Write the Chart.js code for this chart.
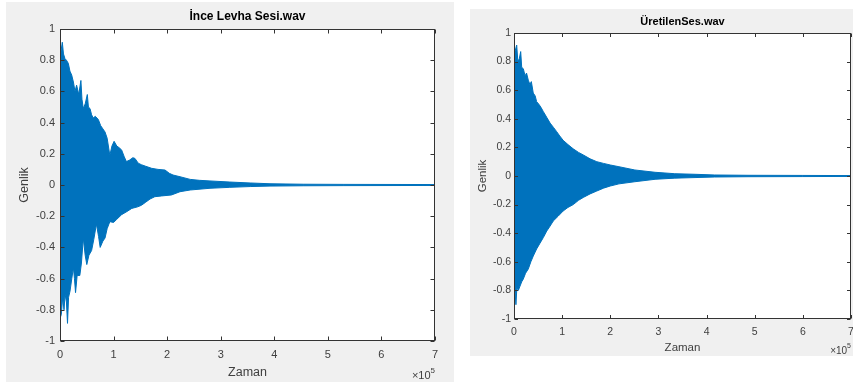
<!DOCTYPE html>
<html>
<head>
<meta charset="utf-8">
<script src="https://cdn.jsdelivr.net/npm/chart.js@4.4.1/dist/chart.umd.min.js"></script>
<style>
  html, body { margin: 0; padding: 0; background: #fff; }
  body { width: 853px; height: 385px; position: relative; overflow: hidden; }
  canvas { position: absolute; }
  #left { left: 6px; top: 2px; }
  #right { left: 470px; top: 9px; }
</style>
</head>
<body>
<canvas id="left" width="448" height="380"></canvas>
<canvas id="right" width="383" height="347"></canvas>
<script>
"use strict";

// x axis ticks (sample index) and y axis ticks (amplitude)
var xTicks = [0, 100000, 200000, 300000, 400000, 500000, 600000, 700000];
var yTicks = [-1, -0.8, -0.6, -0.4, -0.2, 0, 0.2, 0.4, 0.6, 0.8, 1];

// İnce Levha Sesi.wav - envelope
var leftUpperX = [0, 2000, 4300, 6500, 9300, 12000, 15500, 18500, 21800, 25000, 28000, 31000, 35000, 39000, 41000, 43500, 47000, 51000, 53000, 56000, 59000, 62000, 66000, 71500, 76000, 80000, 84000, 88000, 93000, 97000, 101000, 106000, 110000, 115000, 120000, 124000, 130000, 136000, 140000, 146000, 152000, 160000, 171000, 183000, 196000, 204000, 211000, 224000, 243000, 260000, 280000, 317000, 355000, 392000, 454000, 530000, 700000];
var leftUpperY = [0.87, 0.86, 0.915, 0.84, 0.81, 0.8, 0.78, 0.73, 0.705, 0.66, 0.6, 0.64, 0.58, 0.67, 0.55, 0.49, 0.52, 0.58, 0.5, 0.49, 0.45, 0.43, 0.44, 0.42, 0.38, 0.36, 0.34, 0.3, 0.19, 0.25, 0.28, 0.25, 0.24, 0.225, 0.18, 0.15, 0.16, 0.175, 0.17, 0.14, 0.13, 0.12, 0.107, 0.1, 0.096, 0.075, 0.064, 0.053, 0.036, 0.03, 0.026, 0.019, 0.013, 0.008, 0.005, 0.004, 0.003];
var leftLowerX = [0, 2500, 5000, 7500, 9500, 12000, 14000, 16000, 18700, 22000, 25000, 27000, 29000, 32000, 37000, 40000, 43500, 47000, 50000, 54000, 59000, 63000, 68000, 72000, 75000, 80000, 84000, 88000, 93000, 100000, 106000, 115000, 125000, 134000, 145000, 152000, 160000, 168000, 177000, 190000, 208000, 224000, 243000, 280000, 317000, 355000, 392000, 454000, 530000, 700000];
var leftLowerY = [-0.855, -0.83, -0.72, -0.8, -0.7, -0.75, -0.887, -0.72, -0.68, -0.6, -0.53, -0.6, -0.69, -0.58, -0.58, -0.5, -0.34, -0.45, -0.51, -0.45, -0.42, -0.35, -0.25, -0.33, -0.4, -0.36, -0.34, -0.28, -0.235, -0.24, -0.22, -0.19, -0.17, -0.15, -0.14, -0.13, -0.11, -0.09, -0.075, -0.07, -0.064, -0.043, -0.032, -0.021, -0.015, -0.01, -0.007, -0.005, -0.004, -0.003];

// ÜretilenSes.wav
var rightUpperX = [0, 2000, 5600, 8000, 11000, 13900, 16000, 19400, 23000, 26000, 29700, 33000, 36000, 40000, 44000, 47000, 52000, 56000, 61000, 68000, 75000, 82000, 88700, 95000, 102000, 112000, 123000, 134000, 144000, 158000, 172000, 186000, 200000, 218000, 251000, 293000, 334000, 376000, 417000, 486000, 600000, 700000];
var rightUpperY = [0.86, 0.87, 0.916, 0.8, 0.82, 0.87, 0.76, 0.75, 0.7, 0.72, 0.67, 0.64, 0.66, 0.58, 0.56, 0.52, 0.5, 0.48, 0.45, 0.41, 0.37, 0.34, 0.31, 0.28, 0.25, 0.22, 0.19, 0.165, 0.147, 0.12, 0.1, 0.088, 0.077, 0.065, 0.042, 0.026, 0.016, 0.012, 0.007, 0.005, 0.004, 0.003];
var rightLowerX = [0, 2000, 4000, 6000, 9000, 12500, 16000, 19400, 24000, 29700, 35000, 40000, 47000, 54000, 61000, 68000, 75000, 81500, 92000, 102000, 112000, 123000, 134000, 144000, 158000, 172000, 186000, 200000, 218000, 251000, 293000, 334000, 376000, 417000, 486000, 600000, 700000];
var rightLowerY = [-0.79, -0.8, -0.9, -0.78, -0.8, -0.77, -0.74, -0.72, -0.68, -0.65, -0.6, -0.56, -0.51, -0.47, -0.43, -0.385, -0.35, -0.315, -0.28, -0.245, -0.22, -0.2, -0.17, -0.15, -0.125, -0.105, -0.085, -0.07, -0.055, -0.04, -0.023, -0.015, -0.011, -0.007, -0.005, -0.004, -0.003];

var LINE = '#0072BD';
var FONT = '"Liberation Sans", Arial, Helvetica, sans-serif';

function pairs(xs, ys) {
  return xs.map(function(x, i) { return { x: x, y: ys[i] }; });
}

var matlabLook = {
  id: 'matlabLook',
  beforeDraw: function(chart) {
    var ctx = chart.ctx, a = chart.chartArea;
    ctx.save();
    ctx.fillStyle = '#f0f0f0';
    ctx.fillRect(0, 0, chart.width, chart.height);
    ctx.fillStyle = '#fff';
    ctx.fillRect(a.left, a.top, a.right - a.left, a.bottom - a.top);
    ctx.restore();
  },
  afterDraw: function(chart, args, o) {
    var ctx = chart.ctx, a = chart.chartArea;
    var xs = chart.scales.x, ys = chart.scales.y;
    var L = Math.round(a.left) + 0.5, R = Math.round(a.right) - 0.5;
    var T = Math.round(a.top) + 0.5, B = Math.round(a.bottom) - 0.5;
    ctx.save();
    ctx.strokeStyle = '#333';
    ctx.lineWidth = 1;
    ctx.beginPath();
    xTicks.forEach(function(v) {
      var px = Math.round(xs.getPixelForValue(v)) + 0.5;
      ctx.moveTo(px, B); ctx.lineTo(px, B - o.tick);
      ctx.moveTo(px, T); ctx.lineTo(px, T + o.tick);
    });
    yTicks.forEach(function(v) {
      var py = Math.round(ys.getPixelForValue(v)) + 0.5;
      ctx.moveTo(L, py); ctx.lineTo(L + o.tick, py);
      ctx.moveTo(R, py); ctx.lineTo(R - o.tick, py);
    });
    ctx.stroke();
    ctx.strokeRect(L, T, R - L, B - T);

    var cx = (a.left + a.right) / 2;
    ctx.textAlign = 'center';
    ctx.textBaseline = 'middle';
    ctx.fillStyle = '#000';
    ctx.font = 'bold ' + o.titleSize + 'px ' + FONT;
    ctx.fillText(o.title, cx, o.titleY);

    ctx.fillStyle = '#404040';
    ctx.font = o.labelSize + 'px ' + FONT;
    ctx.fillText('Zaman', cx, o.xlabelY);
    ctx.save();
    ctx.translate(o.ylabelX, (a.top + a.bottom) / 2);
    ctx.rotate(-Math.PI / 2);
    ctx.fillText('Genlik', 0, 0);
    ctx.restore();

    ctx.textBaseline = 'alphabetic';
    ctx.textAlign = 'right';
    ctx.font = (o.expSize - 3) + 'px ' + FONT;
    var w5 = ctx.measureText('5').width;
    ctx.fillText('5', a.right, o.expY - 6);
    ctx.font = o.expSize + 'px ' + FONT;
    ctx.fillText('\u00d710', a.right - w5, o.expY);
    ctx.restore();
  }
};

function makeChart(id, upX, upY, loX, loY, look) {
  var tickFont = { family: FONT, size: look.tickSize };
  return new Chart(document.getElementById(id), {
    type: 'line',
    data: {
      datasets: [
        { data: pairs(upX, upY), borderColor: LINE, backgroundColor: LINE, borderWidth: 1, pointRadius: 0, tension: 0, fill: 'origin' },
        { data: pairs(loX, loY), borderColor: LINE, backgroundColor: LINE, borderWidth: 1, pointRadius: 0, tension: 0, fill: 'origin' }
      ]
    },
    options: {
      responsive: false,
      animation: false,
      layout: { padding: { top: look.padTop, right: look.padRight, left: 0, bottom: 0 } },
      plugins: { legend: { display: false }, tooltip: { enabled: false }, matlabLook: look },
      scales: {
        x: {
          type: 'linear', min: 0, max: 700000,
          grid: { display: false, drawTicks: false },
          border: { display: false },
          ticks: {
            stepSize: 100000, autoSkip: false, maxRotation: 0, padding: look.xPad,
            color: '#404040', font: tickFont,
            callback: function(v) { return String(Math.round(v / 100000)); }
          },
          afterFit: function(s) { s.height = look.xHeight; s.paddingLeft = 0; s.paddingRight = 0; }
        },
        y: {
          min: -1, max: 1,
          grid: { display: false, drawTicks: false },
          border: { display: false },
          ticks: {
            stepSize: 0.2, autoSkip: false, padding: look.yPad,
            color: '#404040', font: tickFont,
            callback: function(v) { return String(Math.round(v * 10) / 10); }
          },
          afterFit: function(s) { s.width = look.yWidth; s.paddingTop = 0; s.paddingBottom = 0; }
        }
      }
    },
    plugins: [matlabLook]
  });
}

makeChart('left', leftUpperX, leftUpperY, leftLowerX, leftLowerY, {
  title: '\u0130nce Levha Sesi.wav', titleSize: 12, titleY: 15,
  labelSize: 12.5, xlabelY: 371, ylabelX: 19,
  expSize: 11, expY: 377, tick: 4, tickSize: 11,
  padTop: 27, padRight: 19, yWidth: 54, xHeight: 41, xPad: 7, yPad: 5
});

makeChart('right', rightUpperX, rightUpperY, rightLowerX, rightLowerY, {
  title: '\u00dcretilenSes.wav', titleSize: 11, titleY: 13,
  labelSize: 11.5, xlabelY: 339, ylabelX: 13,
  expSize: 10, expY: 345, tick: 3.5, tickSize: 10.5,
  padTop: 24, padRight: 2, yWidth: 44, xHeight: 37, xPad: 7, yPad: 3
});
</script>
</body>
</html>
